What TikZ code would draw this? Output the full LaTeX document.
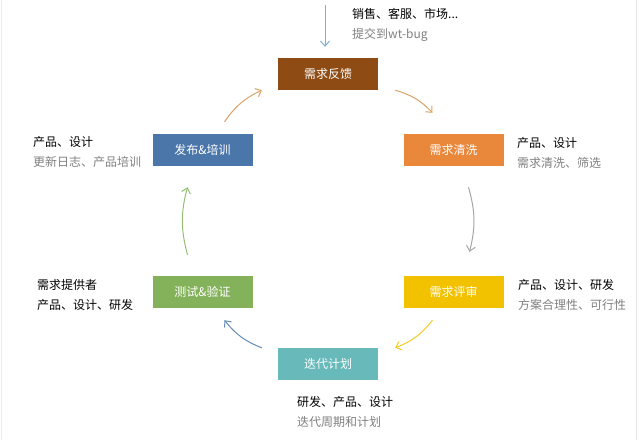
\documentclass[tikz,border=0pt]{standalone}
\usepackage{fontspec}
\setmainfont{Noto Sans CJK SC}
\usetikzlibrary{arrows.meta}
\definecolor{fbBrown}{HTML}{8E4B14}
\definecolor{qxOrange}{HTML}{E9873A}
\definecolor{psYellow}{HTML}{F2C200}
\definecolor{ddTeal}{HTML}{67B9BA}
\definecolor{csGreen}{HTML}{84B25A}
\definecolor{fpBlue}{HTML}{4A76AA}
\definecolor{noteGray}{HTML}{808080}
\definecolor{srcBlue}{HTML}{7DB1D1}
\definecolor{flowTan}{HTML}{D9A266}
\tikzset{
  stage/.style={minimum width=100pt,minimum height=32pt,inner sep=0pt,
    text=white,font=\fontsize{12}{14}\selectfont},
  note/.style={anchor=west,align=left,inner sep=0pt,
    font=\fontsize{12}{20}\selectfont},
  flow/.style={line width=1pt,-{Straight Barb[length=5pt,width=9pt]},bend left=15}
}

\begin{document}
\begin{tikzpicture}[x=1pt,y=-1pt]
            \useasboundingbox (0,0) rectangle (640,440);
            \draw[gray!15] (1,0) -- (1,440);
            \draw[gray!20] (636,0) -- (636,440);

            % Stages of the cycle
            \node[stage,fill=fbBrown]  (fb) at (328,74)    {需求反馈};
            \node[stage,fill=qxOrange] (qx) at (453.5,150) {需求清洗};
            \node[stage,fill=psYellow] (ps) at (453.5,292) {需求评审};
            \node[stage,fill=ddTeal]   (dd) at (328,364)   {迭代计划};
            \node[stage,fill=csGreen]  (cs) at (202.5,292) {测试\&验证};
            \node[stage,fill=fpBlue]   (fp) at (202.5,150) {发布\&培训};

            % Who and what at each stage
            \node[note] (fbNote) at (352,25)  {销售、客服、市场...\\{\color{noteGray}提交到wt-bug}};
            \node[note] (qxNote) at (517,153) {产品、设计\\{\color{noteGray}需求清洗、筛选}};
            \node[note] (psNote) at (518,295) {产品、设计、研发\\{\color{noteGray}方案合理性、可行性}};
            \node[note] (ddNote) at (297,412) {研发、产品、设计\\{\color{noteGray}迭代周期和计划}};
            \node[note] (csNote) at (37,295)  {需求提供者\\产品、设计、研发};
            \node[note] (fpNote) at (33,152)  {产品、设计\\{\color{noteGray}更新日志、产品培训}};

            % Incoming feedback
            \coordinate (src) at (325,5);
            \draw[line width=1pt,color=srcBlue,-{Straight Barb[length=5pt,width=9pt]}]
              (src) -- ([xshift=-3pt,yshift=11pt]fb.north);

            % Arrows round the cycle
            \draw[flow,color=flowTan] ([xshift=17pt]fb.south east) to ([xshift=-21pt,yshift=21pt]qx.north);
            \draw[flow,color=gray!70] ([xshift=15pt,yshift=-21pt]qx.south) to ([xshift=16pt,yshift=24pt]ps.north);
            \draw[flow,color=psYellow!85] ([xshift=-21pt,yshift=-12pt]ps.south) to ([xshift=17pt]dd.north east);
            \draw[flow,color=fpBlue!85] ([xshift=-16pt]dd.north west) to ([xshift=22pt,yshift=-12pt]cs.south);
            \draw[flow,color=csGreen!85] ([xshift=-15pt,yshift=21pt]cs.north) to ([xshift=-15pt,yshift=-21pt]fp.south);
            \draw[flow,color=flowTan] ([xshift=22pt,yshift=12pt]fp.north) to ([xshift=-16pt]fb.south west);
        \end{tikzpicture}
\end{document}
